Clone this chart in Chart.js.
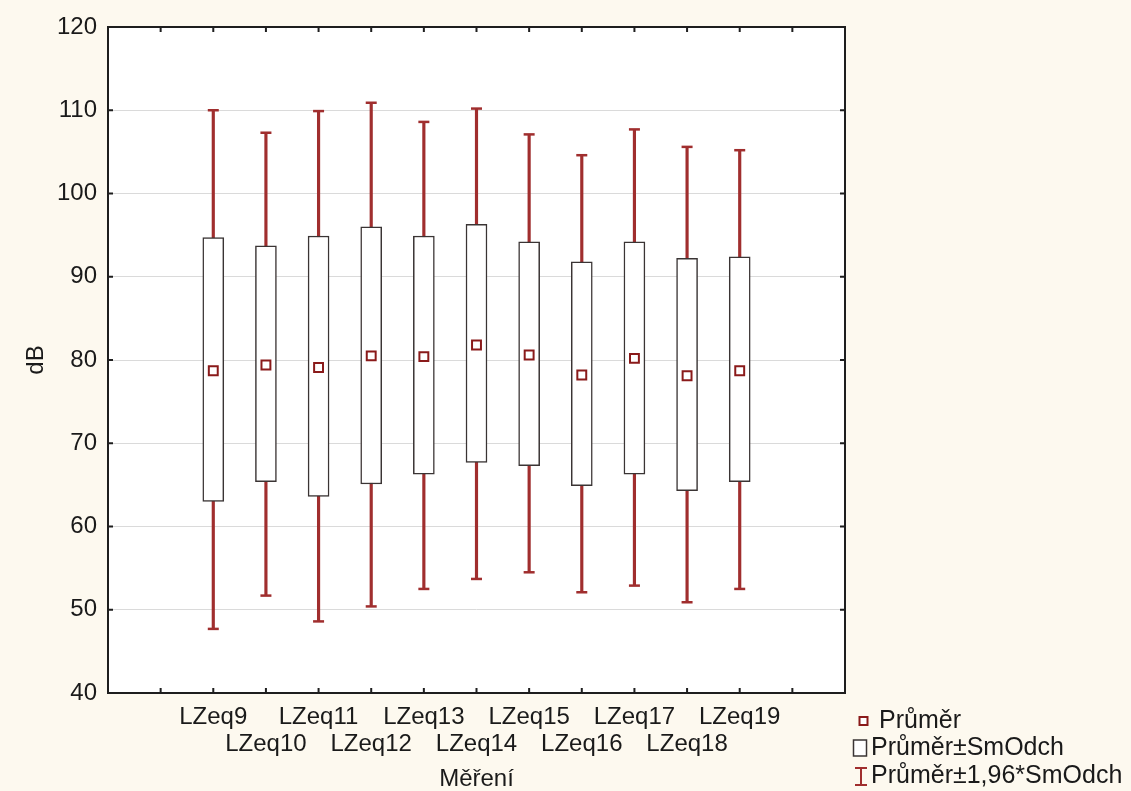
<!DOCTYPE html>
<html><head><meta charset="utf-8">
<script src="https://cdn.jsdelivr.net/npm/chart.js@4.4.1/dist/chart.umd.min.js"></script>
<style>
html,body{margin:0;padding:0;background:#fdf9ef;}
#wrap{position:relative;width:1131px;height:791px;}
canvas{display:block;}
</style></head><body>
<div id="wrap"><canvas id="c" width="1131" height="791"></canvas></div>
<script>
const categories = ['LZeq9','LZeq10','LZeq11','LZeq12','LZeq13','LZeq14','LZeq15','LZeq16','LZeq17','LZeq18','LZeq19'];
const means      = [78.7, 79.4, 79.1, 80.5, 80.4, 81.8, 80.6, 78.2, 80.2, 78.1, 78.7];
const sdHigh     = [94.7, 93.7, 94.9, 96.0, 94.9, 96.3, 94.2, 91.8, 94.2, 92.2, 92.4];
const sdLow      = [63.0, 65.4, 63.6, 65.1, 66.3, 67.7, 67.3, 64.9, 66.3, 64.3, 65.4];
const ciHigh     = [110.0, 107.3, 109.9, 110.9, 108.6, 110.2, 107.1, 104.6, 107.7, 105.6, 105.2];
const ciLow      = [47.7, 51.7, 48.6, 50.4, 52.5, 53.7, 54.5, 52.1, 52.9, 50.9, 52.5];
const yMin = 40, yMax = 120, yStep = 10;
const legendLabels = ['Průměr', 'Průměr±SmOdch', 'Průměr±1,96*SmOdch'];
const xTitle = 'Měření';
const yTitle = 'dB';

const PAD = 2;
const labels = [...Array(PAD).fill(''), ...categories, ...Array(PAD).fill('')];
const pad = arr => [...Array(PAD).fill(null), ...arr, ...Array(PAD).fill(null)];

const FONT = '"Liberation Sans", Arial, sans-serif';
const FS = 24;
const TXT = '#1a1a1a';
const WHISK = '#a02e2e';
const MEANC = '#8a1a1a';
const BOXB = '#3a3434';
const FRAME = '#1e1e1e';

const decor = {
  id: 'decor',
  beforeDraw(chart) {
    const {ctx, chartArea: a} = chart;
    ctx.save();
    ctx.fillStyle = '#fdf9ef';
    ctx.fillRect(0, 0, chart.width, chart.height);
    ctx.fillStyle = '#ffffff';
    ctx.fillRect(a.left, a.top, a.right - a.left, a.bottom - a.top);
    ctx.restore();
  },
  afterDraw(chart) {
    const {ctx, chartArea: a, scales} = chart;
    ctx.save();
    ctx.strokeStyle = FRAME;
    ctx.lineWidth = 2;
    ctx.strokeRect(a.left, a.top, a.right - a.left, a.bottom - a.top);
    // inward ticks
    const TL = 5;
    ctx.beginPath();
    scales.y.ticks.forEach(t => {
      const y = scales.y.getPixelForValue(t.value);
      ctx.moveTo(a.left, y); ctx.lineTo(a.left + TL, y);
      ctx.moveTo(a.right, y); ctx.lineTo(a.right - TL, y);
    });
    for (let i = 1; i < labels.length - 1; i++) {
      const x = scales.x.getPixelForValue(i);
      ctx.moveTo(x, a.top); ctx.lineTo(x, a.top + TL);
      ctx.moveTo(x, a.bottom); ctx.lineTo(x, a.bottom - TL);
    }
    ctx.stroke();

    // legend
    ctx.font = '25px ' + FONT;
    ctx.textBaseline = 'middle';
    ctx.textAlign = 'left';
    const rows = [721, 748, 776];
    ctx.fillStyle = '#fff';
    ctx.strokeStyle = MEANC; ctx.lineWidth = 2;
    ctx.fillRect(859.5, rows[0] - 4, 8, 8);
    ctx.strokeRect(859.5, rows[0] - 4, 8, 8);
    ctx.strokeStyle = BOXB; ctx.lineWidth = 1.5;
    ctx.fillRect(853.5, rows[1] - 8, 13, 16);
    ctx.strokeRect(853.5, rows[1] - 8, 13, 16);
    ctx.strokeStyle = WHISK; ctx.lineWidth = 2;
    ctx.beginPath();
    ctx.moveTo(855, rows[2] - 8); ctx.lineTo(867, rows[2] - 8);
    ctx.moveTo(861, rows[2] - 8); ctx.lineTo(861, rows[2] + 9);
    ctx.moveTo(855, rows[2] + 9); ctx.lineTo(867, rows[2] + 9);
    ctx.stroke();
    ctx.fillStyle = TXT;
    ctx.fillText(legendLabels[0], 879, rows[0]);
    ctx.fillText(legendLabels[1], 871, rows[1]);
    ctx.fillText(legendLabels[2], 871, rows[2]);
    ctx.restore();
  }
};

new Chart(document.getElementById('c'), {
  type: 'bar',
  data: {
    labels: labels,
    datasets: [
      {
        type: 'line', label: legendLabels[0], data: pad(means), showLine: false,
        pointStyle: 'rect', pointRadius: 6.3, pointBorderWidth: 2,
        pointBackgroundColor: '#ffffff', pointBorderColor: MEANC, order: 0
      },
      {
        type: 'bar', label: legendLabels[1], data: pad(sdLow.map((l, i) => [l, sdHigh[i]])),
        backgroundColor: '#ffffff', borderColor: BOXB, borderWidth: 1.5, borderSkipped: false,
        barThickness: 21, grouped: false, order: 1
      },
      {
        type: 'line', label: 'capHigh', data: pad(ciHigh), showLine: false,
        pointStyle: 'line', pointRadius: 5.5, pointBorderWidth: 2.5, pointBorderColor: WHISK, order: 2
      },
      {
        type: 'line', label: 'capLow', data: pad(ciLow), showLine: false,
        pointStyle: 'line', pointRadius: 5.5, pointBorderWidth: 2.5, pointBorderColor: WHISK, order: 2
      },
      {
        type: 'bar', label: legendLabels[2], data: pad(ciLow.map((l, i) => [l, ciHigh[i]])),
        backgroundColor: WHISK, borderWidth: 0, barThickness: 2.5, grouped: false, order: 3
      }
    ]
  },
  options: {
    responsive: false,
    animation: false,
    events: [],
    layout: { padding: { top: 27, right: 286, left: 0, bottom: 0 } },
    plugins: { legend: { display: false }, tooltip: { enabled: false } },
    scales: {
      x: {
        type: 'category', offset: false,
        grid: { display: false, drawTicks: false },
        border: { display: false },
        ticks: {
          autoSkip: false, maxRotation: 0, minRotation: 0, padding: 11,
          color: TXT, font: { family: FONT, size: FS, lineHeight: 1.12 },
          callback: function (v, i) {
            const k = i - PAD;
            if (k < 0 || k >= categories.length) return '';
            return k % 2 === 0 ? [categories[k], ''] : ['', categories[k]];
          }
        },
        title: { display: true, text: xTitle, color: TXT, font: { family: FONT, size: FS, lineHeight: 1.2 }, padding: { top: 0, bottom: -3 } },
        afterFit: s => { s.height = 98; }
      },
      y: {
        min: yMin, max: yMax,
        grid: { color: '#dadada', lineWidth: 1, drawTicks: false },
        border: { display: false },
        ticks: { stepSize: yStep, padding: 11, color: TXT, font: { family: FONT, size: FS } },
        title: { display: true, text: yTitle, color: TXT, font: { family: FONT, size: FS }, padding: { top: 22, bottom: 0 } },
        afterFit: s => { s.width = 108; }
      }
    }
  },
  plugins: [decor]
});
</script>
</body></html>
